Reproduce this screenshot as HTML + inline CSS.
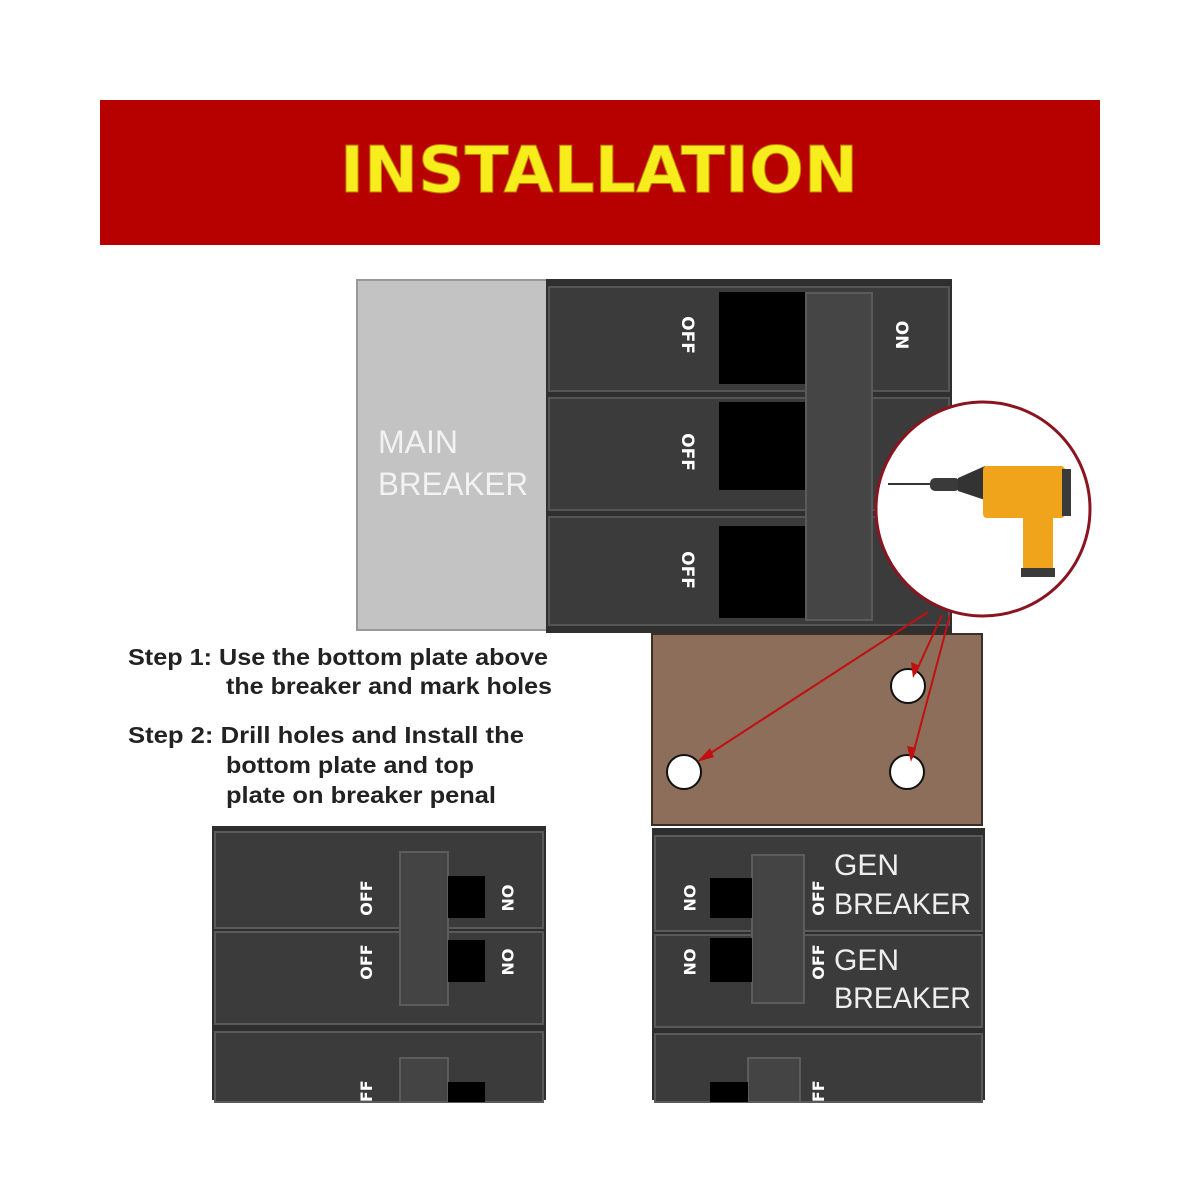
<!DOCTYPE html>
<html><head><meta charset="utf-8"><style>
html,body{margin:0;padding:0;background:#fff;}
svg{display:block;}
</style></head><body>
<svg width="1200" height="1200" viewBox="0 0 1200 1200" xmlns="http://www.w3.org/2000/svg">
<rect width="1200" height="1200" fill="#fff"/>
<!-- banner -->
<rect x="100" y="100" width="1000" height="145" fill="#b70000"/>
<text x="340" y="192" font-family="DejaVu Sans, sans-serif" font-weight="bold" font-size="64" fill="#f7ec1c" stroke="#c08000" stroke-width="1" textLength="518" lengthAdjust="spacingAndGlyphs">INSTALLATION</text>

<!-- main breaker -->
<rect x="357" y="280" width="190" height="350" fill="#c3c3c3" stroke="#999" stroke-width="2"/>
<text x="378" y="453" font-family="Liberation Sans, sans-serif" font-size="32" fill="#f2f2f2">MAIN</text>
<text x="378" y="495" font-family="Liberation Sans, sans-serif" font-size="32" fill="#f2f2f2" textLength="150" lengthAdjust="spacingAndGlyphs">BREAKER</text>
<rect x="546" y="279" width="406" height="354" fill="#2f2f2f"/>
<g fill="#3b3b3b" stroke="#555" stroke-width="2">
<rect x="549" y="287" width="400" height="104"/>
<rect x="549" y="398" width="400" height="112"/>
<rect x="549" y="517" width="400" height="108"/>
</g>
<g fill="#000">
<rect x="719" y="292" width="87" height="92"/>
<rect x="719" y="402" width="87" height="88"/>
<rect x="719" y="526" width="87" height="92"/>
</g>
<rect x="806" y="293" width="66" height="327" fill="#454545" stroke="#5a5a5a" stroke-width="2"/>
<g font-family="DejaVu Sans, sans-serif" font-weight="bold" font-size="17" fill="#fff" text-anchor="middle">
<text transform="translate(682,335) rotate(90)">OFF</text>
<text transform="translate(682,452) rotate(90)">OFF</text>
<text transform="translate(682,570) rotate(90)">OFF</text>
<text transform="translate(896,335) rotate(90)">ON</text>
</g>

<!-- plate -->
<rect x="652" y="634" width="330" height="191" fill="#8c6e5a" stroke="#3a2e26" stroke-width="2"/>
<g fill="#fff" stroke="#111" stroke-width="2">
<circle cx="684" cy="772" r="17"/>
<circle cx="908" cy="686" r="17"/>
<circle cx="907" cy="772" r="17"/>
</g>
<g stroke="#c01010" stroke-width="2" fill="none">
<line x1="928" y1="612" x2="700" y2="760"/>
<line x1="942" y1="615" x2="915" y2="674"/>
<line x1="950" y1="615" x2="912" y2="758"/>
</g>
<g fill="#c01010">
<polygon points="697,762 710,748 714,757"/>
<polygon points="913,678 911,662 920,666"/>
<polygon points="911,762 907,746 916,748"/>
</g>

<!-- circle with drill -->
<circle cx="983" cy="509" r="107" fill="#fff" stroke="#8a1520" stroke-width="3"/>
<line x1="888" y1="484" x2="932" y2="484" stroke="#333" stroke-width="2"/>
<rect x="930" y="478" width="30" height="13" rx="5" fill="#3a3a3a"/>
<polygon points="958,478 985,466 985,500 958,491" fill="#333"/>
<rect x="983" y="466" width="82" height="52" rx="4" fill="#f0a41c"/>
<rect x="1062" y="469" width="9" height="47" fill="#3a3a3a"/>
<rect x="1023" y="515" width="30" height="60" fill="#f0a41c"/>
<rect x="1021" y="568" width="34" height="9" fill="#3a3a3a"/>

<!-- steps text -->
<g font-family="Liberation Sans Narrow, Liberation Sans, sans-serif" font-weight="bold" font-size="23" fill="#222">
<text x="128" y="665" textLength="420" lengthAdjust="spacingAndGlyphs">Step 1: Use the bottom plate above</text>
<text x="226" y="694" textLength="326" lengthAdjust="spacingAndGlyphs">the breaker and mark holes</text>
<text x="128" y="743" textLength="396" lengthAdjust="spacingAndGlyphs">Step 2: Drill holes and Install the</text>
<text x="226" y="773" textLength="248" lengthAdjust="spacingAndGlyphs">bottom plate and top</text>
<text x="226" y="803" textLength="270" lengthAdjust="spacingAndGlyphs">plate on breaker penal</text>
</g>

<!-- bottom-left breakers -->
<rect x="212" y="826" width="334" height="274" fill="#2e2e2e"/>
<g fill="#3b3b3b" stroke="#5a5a5a" stroke-width="2">
<rect x="215" y="832" width="328" height="96"/>
<rect x="215" y="932" width="328" height="92"/>
<rect x="215" y="1032" width="328" height="70"/>
</g>
<rect x="400" y="852" width="48" height="153" fill="#444" stroke="#5c5c5c" stroke-width="2"/>
<rect x="400" y="1058" width="48" height="44" fill="#444" stroke="#5c5c5c" stroke-width="2"/>
<g fill="#000">
<rect x="448" y="876" width="37" height="42"/>
<rect x="448" y="940" width="37" height="42"/>
<rect x="448" y="1082" width="37" height="20"/>
</g>
<g font-family="DejaVu Sans, sans-serif" font-weight="bold" font-size="16" fill="#fff" text-anchor="middle">
<text transform="translate(372,898) rotate(-90)">OFF</text>
<text transform="translate(372,962) rotate(-90)">OFF</text>
<text transform="translate(372,1098) rotate(-90)">OFF</text>
<text transform="translate(502,898) rotate(90)">ON</text>
<text transform="translate(502,962) rotate(90)">ON</text>
</g>

<!-- bottom-right breakers -->
<rect x="652" y="828" width="333" height="272" fill="#2e2e2e"/>
<g fill="#3b3b3b" stroke="#5a5a5a" stroke-width="2">
<rect x="655" y="836" width="327" height="95"/>
<rect x="655" y="935" width="327" height="92"/>
<rect x="655" y="1034" width="327" height="68"/>
</g>
<rect x="752" y="855" width="52" height="148" fill="#444" stroke="#5c5c5c" stroke-width="2"/>
<rect x="748" y="1058" width="52" height="44" fill="#444" stroke="#5c5c5c" stroke-width="2"/>
<g fill="#000">
<rect x="710" y="878" width="42" height="40"/>
<rect x="710" y="938" width="42" height="44"/>
<rect x="710" y="1082" width="38" height="20"/>
</g>
<g font-family="DejaVu Sans, sans-serif" font-weight="bold" font-size="16" fill="#fff" text-anchor="middle">
<text transform="translate(684,898) rotate(90)">ON</text>
<text transform="translate(684,962) rotate(90)">ON</text>
<text transform="translate(824,898) rotate(-90)">OFF</text>
<text transform="translate(824,962) rotate(-90)">OFF</text>
<text transform="translate(824,1098) rotate(-90)">OFF</text>
</g>
<g font-family="Liberation Sans, sans-serif" font-size="30" fill="#eee">
<text x="834" y="875">GEN</text>
<text x="834" y="914" textLength="137" lengthAdjust="spacingAndGlyphs">BREAKER</text>
<text x="834" y="970">GEN</text>
<text x="834" y="1008" textLength="137" lengthAdjust="spacingAndGlyphs">BREAKER</text>
</g>
</svg>
</body></html>
